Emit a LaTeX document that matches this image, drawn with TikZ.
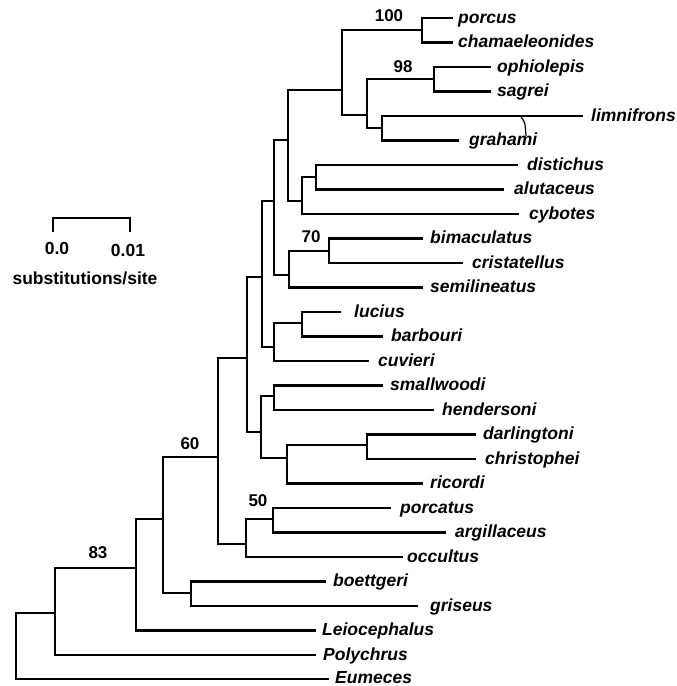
\documentclass[tikz,border=0pt]{standalone}
\usepackage{fontspec}
\setmainfont{Liberation Sans}
\begin{document}
\begin{tikzpicture}[x=1pt,y=-1pt,
  br/.style={line width=2.6pt, line cap=rect, line join=miter},
  taxon/.style={anchor=base west, inner sep=0pt, font=\fontsize{17.5}{20}\selectfont\bfseries\itshape},
  supp/.style={inner sep=0pt, font=\fontsize{17}{20}\selectfont\bfseries},
  scl/.style={inner sep=0pt, font=\fontsize{17.5}{20}\selectfont\bfseries}]
\useasboundingbox (0,0) rectangle (677,686);
% leaf line ends
\coordinate (e1) at (452,18);
\coordinate (e2) at (452,42.5);
\coordinate (e3) at (490,67);
\coordinate (e4) at (490,91.5);
\coordinate (e5) at (582,116);
\coordinate (e6) at (458,140.5);
\coordinate (e7) at (517,165);
\coordinate (e8) at (503,189.5);
\coordinate (e9) at (518,214);
\coordinate (e10) at (422,238.5);
\coordinate (e11) at (462,263);
\coordinate (e12) at (422,287.5);
\coordinate (e13) at (340,312);
\coordinate (e14) at (382,336.5);
\coordinate (e15) at (368,361);
\coordinate (e16) at (382,385.5);
\coordinate (e17) at (433,410);
\coordinate (e18) at (475,434.5);
\coordinate (e19) at (475,459);
\coordinate (e20) at (422,483.5);
\coordinate (e21) at (390,508);
\coordinate (e22) at (445,532.5);
\coordinate (e23) at (402,557);
\coordinate (e24) at (325,581.5);
\coordinate (e25) at (417,606);
\coordinate (e26) at (315,630.5);
\coordinate (e27) at (315,655);
\coordinate (e28) at (328,679);
% taxon labels
\node[taxon] (t1) at (458,23) {porcus};
\node[taxon] (t2) at (458,47.5) {chamaeleonides};
\node[taxon] (t3) at (497,72) {ophiolepis};
\node[taxon] (t4) at (497,96.5) {sagrei};
\node[taxon] (t5) at (591,121) {limnifrons};
\node[taxon] (t6) at (469,145.5) {grahami};
\node[taxon] (t7) at (527,170) {distichus};
\node[taxon] (t8) at (514,194.5) {alutaceus};
\node[taxon] (t9) at (529,219) {cybotes};
\node[taxon] (t10) at (430,243.5) {bimaculatus};
\node[taxon] (t11) at (472,268) {cristatellus};
\node[taxon] (t12) at (430,292.5) {semilineatus};
\node[taxon] (t13) at (354,317) {lucius};
\node[taxon] (t14) at (391,341.5) {barbouri};
\node[taxon] (t15) at (378,366) {cuvieri};
\node[taxon] (t16) at (390,390.5) {smallwoodi};
\node[taxon] (t17) at (442,415) {hendersoni};
\node[taxon] (t18) at (483,439.5) {darlingtoni};
\node[taxon] (t19) at (485,464) {christophei};
\node[taxon] (t20) at (430,488.5) {ricordi};
\node[taxon] (t21) at (400,513) {porcatus};
\node[taxon] (t22) at (455,537.5) {argillaceus};
\node[taxon] (t23) at (407,562) {occultus};
\node[taxon] (t24) at (333,586.5) {boettgeri};
\node[taxon] (t25) at (430,611) {griseus};
\node[taxon] (t26) at (322,635.5) {Leiocephalus};
\node[taxon] (t27) at (323,660) {Polychrus};
\node[taxon] (t28) at (335,683.5) {Eumeces};
% internal nodes
\coordinate (A) at (422,30);
\coordinate (B) at (434,79);
\coordinate (C) at (382,128);
\coordinate (D) at (367,115);
\coordinate (E) at (342,90);
\coordinate (F) at (316,177);
\coordinate (G) at (302,201);
\coordinate (H) at (288,140);
\coordinate (I) at (329,251);
\coordinate (J) at (289,275);
\coordinate (K) at (274,201);
\coordinate (L) at (302,323);
\coordinate (M) at (274,347);
\coordinate (N) at (262,277);
\coordinate (O) at (274,396);
\coordinate (P) at (367,445);
\coordinate (Q) at (287,458);
\coordinate (R) at (261,432);
\coordinate (S) at (247,358);
\coordinate (U) at (273,519);
\coordinate (T) at (246,544);
\coordinate (V) at (218,457);
\coordinate (W) at (191,593);
\coordinate (X) at (163,519);
\coordinate (Y) at (136,568);
\coordinate (Z) at (55,613);
\coordinate (root) at (16,613);
% branches
\draw[br] (A) |- (e1) (A) |- (e2);
\draw[br] (B) |- (e3) (B) |- (e4);
\draw[br] (C) |- (e5) (C) |- (e6);
\draw[br] (D) |- (B) (D) |- (C);
\draw[br] (E) |- (A) (E) |- (D);
\draw[br] (F) |- (e7) (F) |- (e8);
\draw[br] (G) |- (F) (G) |- (e9);
\draw[br] (H) |- (E) (H) |- (G);
\draw[br] (I) |- (e10) (I) |- (e11);
\draw[br] (J) |- (I) (J) |- (e12);
\draw[br] (K) |- (H) (K) |- (J);
\draw[br] (L) |- (e13) (L) |- (e14);
\draw[br] (M) |- (L) (M) |- (e15);
\draw[br] (N) |- (K) (N) |- (M);
\draw[br] (O) |- (e16) (O) |- (e17);
\draw[br] (P) |- (e18) (P) |- (e19);
\draw[br] (Q) |- (P) (Q) |- (e20);
\draw[br] (R) |- (O) (R) |- (Q);
\draw[br] (S) |- (N) (S) |- (R);
\draw[br] (U) |- (e21) (U) |- (e22);
\draw[br] (T) |- (U) (T) |- (e23);
\draw[br] (V) |- (S) (V) |- (T);
\draw[br] (W) |- (e24) (W) |- (e25);
\draw[br] (X) |- (V) (X) |- (W);
\draw[br] (Y) |- (X) (Y) |- (e26);
\draw[br] (Z) |- (Y) (Z) |- (e27);
\draw[br] (root) |- (Z) (root) |- (e28);
% small stroke near limnifrons
\coordinate (k1) at (521,117);
\coordinate (k2) at (526,136);
\draw[line width=1.2pt] (k1) .. controls (525,122) .. (k2);
% support values
\node[supp] (s100) at (389,16) {100};
\node[supp] (s98) at (403,67) {98};
\node[supp] (s70) at (311,237) {70};
\node[supp] (s60) at (190,444) {60};
\node[supp] (s83) at (98,553) {83};
\node[supp] (s50) at (258,501) {50};
% scale bar
\coordinate (sb0) at (53,231);
\coordinate (sb1) at (53,218);
\coordinate (sb2) at (130,218);
\coordinate (sb3) at (130,231);
\draw[br] (sb0) -- (sb1) -- (sb2) -- (sb3);
\node[scl] (z0) at (57,248) {0.0};
\node[scl] (z1) at (128,250) {0.01};
\node[scl] (zl) at (85,278) {substitutions/site};
\end{tikzpicture}
\end{document}
